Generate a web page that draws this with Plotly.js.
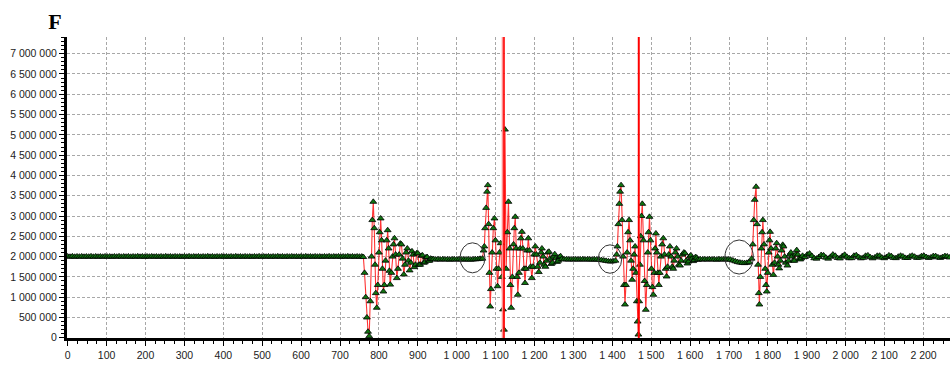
<!DOCTYPE html>
<html>
<head>
<meta charset="utf-8">
<script src="https://cdn.plot.ly/plotly-3.0.1.min.js"></script>
<style>
html,body{margin:0;padding:0;background:#fff;}
#chart{width:950px;height:367px;}
</style>
</head>
<body>
<div id="chart"></div>
<script>
// Values in thousands. Flat segments are sampled every flatStep units from their start.
const flatStep = 6;
const flatAStart = 0;
const flatA = [2004,1996,2006,1995,2003,1998,2005,1996,2002,1997,
2006,1995,2004,1997,2003,1996,2005,1998,2002,1995,
2004,1997,2006,1996,2003,1998,2005,1995,2002,1997,
2006,1996,2004,1995,2003,1998,2005,1997,2002,1996,
2004,1995,2006,1997,2003,1996,2005,1998,2002,1995,
2004,1997,2006,1996,2003,1998,2005,1995,2002,1997,
2006,1996,2004,1995,2003,1998,2005,1997,2002,1996,
2004,1995,2006,1997,2003,1996,2005,1998,2002,1995,
2004,1997,2006,1996,2003,1998,2005,1995,2002,1997,
2006,1996,2004,1995,2003,1998,2005,1997,2002,1996,
2004,1995,2006,1997,2003,1996,2005,1998,2002,1995,
2004,1997,2006,1996,2003,1998,2005,1995,2002,1997,
2006,1996,2004,1995,2003,1998,2001];

const burst1X = [760,763,766,769,772,775,778,781,783,785.5,788,790,792,794.5,797,800,802,804.5,807,809,811.5,814,817,820,822.5,825,827,829,832,835,837.5,840,843,846,849,852,855,858,861,864,867,870,873,876,879,882,885,888,891,894,897,900,903,906,909,912,915,918,921,924,927,930,933,936];
const burst1Y = [1990,1600,1000,500,150,40,900,2000,2900,3350,2700,1800,1100,740,1300,2100,2600,2940,2400,1700,1140,1300,1900,2400,2650,2200,1650,1310,1600,2000,2300,2450,2050,1470,1700,2050,2320,2300,1950,1560,1800,2100,2200,1900,1660,1850,2130,2050,1740,1800,2080,2080,1800,1800,2020,2030,1850,1860,1980,1990,1900,1900,1950,1940];

const flatBStart = 940;
const flatB = [1935,1928,1932,1926,1934,1929,1931,1925,1933,1930,1927,1932,1929,1926,1931,1928,1925,1930,1934,1938,1945];

const burst2X = [1066,1069,1071,1073,1075.5,1078,1080,1082,1084,1086,1088,1091,1094,1097,1099.5,1102,1105,1107.5,1110,1113,1116,1119,1121.5,1124,1127,1130,1133,1136,1138,1140,1143,1146,1148,1150.5,1153,1155,1157,1160,1163,1165,1167.5,1170,1173,1175.5,1178,1181,1184,1187,1190,1193,1196,1199,1202,1205,1208,1211,1214,1217,1219,1222,1225,1228,1231,1234,1237,1240,1243,1246,1249,1252,1255,1258,1261,1264,1267,1270];
const burst2Y = [1950,2150,2250,2700,3200,3600,3760,2800,1600,770,1200,2100,2700,2940,2400,1700,1270,1700,2100,2330,1500,700,200,5130,1700,2600,3350,2200,1300,740,1500,2300,2700,2980,2200,1500,1060,1600,2200,2450,2610,2200,1700,1350,1700,2150,2450,2150,1750,1470,1750,2050,2250,2050,1750,1620,1850,2100,2200,2000,1800,1750,1900,2100,2120,1950,1820,1850,2000,2060,1960,1870,1900,1990,2010,1940];

const flatCStart = 1276;
const flatC = [1930,1934,1927,1931,1928,1933,1926,1930,1932,1927,1931,1929,1925,1930,1928,1922,1915,1905,1895,1885,1878,1885];

const burst3X = [1408,1411,1413,1415.5,1418,1420,1422.5,1425,1427.5,1430,1432.5,1435,1438,1440.5,1443,1445.5,1448,1451,1453.5,1456,1458.5,1461,1463,1465,1467,1469,1471,1473,1475,1477,1480,1483,1486,1488.5,1491,1493,1495.5,1498,1500.5,1503,1505.5,1508,1510,1512,1514.5,1517,1519.5,1522,1525,1528,1531,1534,1537,1539.5,1542,1545,1548,1551,1554,1556.5,1559,1562,1565,1568,1571,1574,1577,1580,1584,1587,1590,1593,1596,1599,1602,1605,1608,1611,1614,1617,1620];
const burst3Y = [1900,2050,2250,2800,3300,3600,3760,2900,2000,1300,820,1300,2100,2600,2900,2400,1900,1430,1700,2050,2250,1600,900,400,80,900,1800,2500,3000,3300,2400,1400,690,1300,2100,2600,2980,2400,1700,1250,1060,1600,2200,2570,2100,1600,1300,1600,2000,2300,2450,2050,1700,1510,1750,2050,2250,2000,1750,1700,1900,2100,2200,2000,1800,1780,1900,2050,2100,2080,1900,1830,1880,2000,2030,1950,1890,1920,1990,1970,1920];

const flatDStart = 1626;
const flatD = [1935,1928,1932,1926,1934,1929,1931,1925,1933,1930,1927,1932,1929,1924,1905,1885,1865,1852,1845,1840,1846,1862];

const burst4X = [1758,1761,1763.5,1766,1769.5,1772,1774.5,1776.5,1778,1780.5,1783,1785,1787,1790,1793,1795,1797,1799.5,1802,1804,1805.5,1808,1811,1814,1817,1820,1822.5,1825,1827,1829,1832,1835,1838,1840,1843,1846,1850,1853,1856,1859,1862,1865,1868,1871,1874,1877,1880,1883,1886,1889];
const burst4Y = [1950,2300,2900,3400,3720,2800,1800,1100,820,1500,2200,2600,2900,2300,1700,1300,1140,1600,2100,2400,2610,2200,1800,1550,1850,2200,2330,2000,1800,1710,1900,2150,2290,2250,2000,1850,1780,1900,2050,2100,2000,1900,1900,2050,2160,2050,1950,1930,1960,2020];

const tailStart = 1895;
const tail = [1990,2050,2075,2015,1960,1950,1990,2040,2030,1975,1950,1995,2050,2020,1965,1955,2010,2045,1995,1960,1962,2020,2035,1990,1958,1970,2020,2030,1985,1958,1980,2020,2022,1975,1960,1990,2030,2012,1968,1962,1998,2022,2005,1968,1966,2005,2022,1998,1968,1975,2012,2020,1990,1968,1980,2012,2012,1982,1968,1990,2012,2005,1978];

const xTickLabelsStep = 100;
const yTickStep = 500000;

// assemble series
const xs = [], ys = [];
function addFlat(start, vals){ vals.forEach((v,i)=>{ xs.push(start + i*flatStep); ys.push(v*1000); }); }
function addBurst(bx, by){ bx.forEach((x,i)=>{ xs.push(x); ys.push(by[i]*1000); }); }
addFlat(flatAStart, flatA);
addBurst(burst1X, burst1Y);
addFlat(flatBStart, flatB);
addBurst(burst2X, burst2Y);
addFlat(flatCStart, flatC);
addBurst(burst3X, burst3Y);
addFlat(flatDStart, flatD);
addBurst(burst4X, burst4Y);
addFlat(tailStart, tail);

const trace = {
  x: xs, y: ys, type: 'scatter', mode: 'lines+markers',
  line: {color: 'rgba(255,0,0,0.8)', width: 1.1},
  marker: {symbol: 'triangle-up', size: 6, color: '#107510', line: {color: '#000', width: 0.8}},
  hoverinfo: 'none'
};

const tickFont = {family: '"Liberation Sans", Arial, sans-serif', size: 10.5, color: '#222'};
const gridStyle = {showgrid: true, gridcolor: '#a8a8a8', gridwidth: 1, griddash: '3px,2px'};

const layout = {
  width: 950, height: 367,
  margin: {l: 67, r: 0, t: 37, b: 29, pad: 0},
  paper_bgcolor: '#fff', plot_bgcolor: '#fff',
  separators: '. ',
  showlegend: false,
  title: {text: '<b>F</b>', x: 55/950, xref: 'container', xanchor: 'center', y: 1 - 21/367, yref: 'container', yanchor: 'middle',
          font: {family: '"Liberation Serif", "Times New Roman", serif', size: 22, color: '#000'}},
  xaxis: Object.assign({
    range: [-1.8, 2268], tick0: 0, dtick: xTickLabelsStep, tickformat: ',d',
    ticks: 'outside', ticklen: 5, tickwidth: 1, tickcolor: '#000',
    showline: true, linecolor: '#000', linewidth: 3, zeroline: false,
    tickfont: tickFont,
    minor: {dtick: 25, ticks: 'outside', ticklen: 3, tickcolor: '#000', tickwidth: 1, showgrid: false}
  }, gridStyle),
  yaxis: Object.assign({
    range: [-5000, 7410000], tick0: 0, dtick: yTickStep, tickformat: ',d',
    ticks: 'outside', ticklen: 5, tickwidth: 1, tickcolor: '#000',
    showline: true, linecolor: '#000', linewidth: 3, zeroline: false,
    tickfont: tickFont,
    minor: {dtick: 100000, ticks: 'outside', ticklen: 3, tickcolor: '#000', tickwidth: 1, showgrid: false}
  }, gridStyle),
  shapes: [
    {type: 'line', xref: 'x', yref: 'paper', x0: 1118, x1: 1118, y0: 0, y1: 1, line: {color: '#ff8f8f', width: 1.8}},
    {type: 'line', xref: 'x', yref: 'paper', x0: 1121.5, x1: 1121.5, y0: 0, y1: 1, line: {color: '#ff0000', width: 1.6}},
    {type: 'line', xref: 'x', yref: 'paper', x0: 1468, x1: 1468, y0: 0, y1: 1, line: {color: '#ff0000', width: 2}},
    {type: 'circle', xref: 'x', yref: 'y', x0: 1008.5, x1: 1072.5, y0: 1600000, y1: 2340000, line: {color: '#333', width: 1}},
    {type: 'circle', xref: 'x', yref: 'y', x0: 1364, x1: 1424, y0: 1590000, y1: 2290000, line: {color: '#333', width: 1}},
    {type: 'circle', xref: 'x', yref: 'y', x0: 1689.5, x1: 1762.5, y0: 1570000, y1: 2410000, line: {color: '#333', width: 1}}
  ]
};

Plotly.newPlot('chart', [trace], layout, {displayModeBar: false, staticPlot: true});
</script>
</body>
</html>
